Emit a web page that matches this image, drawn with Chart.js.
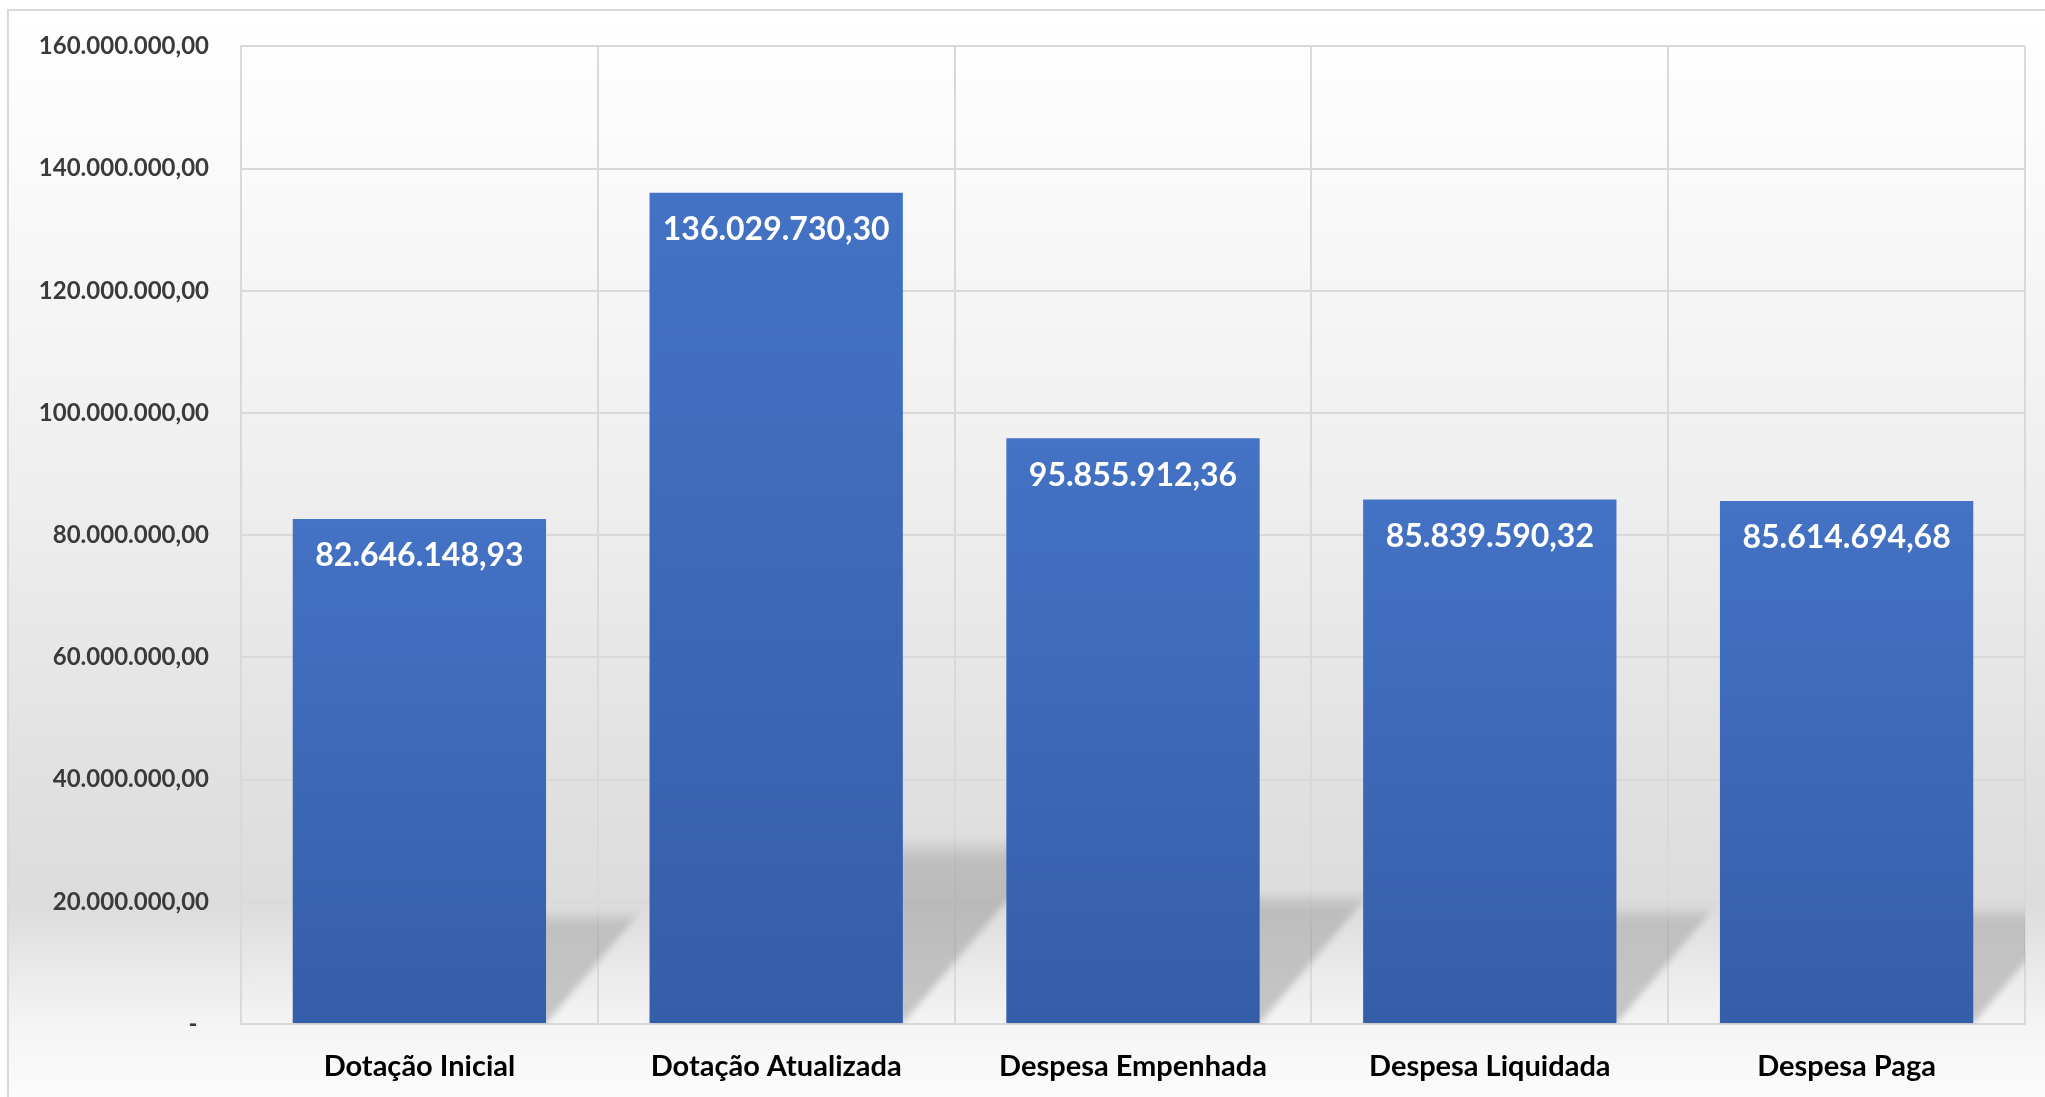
<!DOCTYPE html>
<html lang="pt-BR">
<head>
<meta charset="utf-8">
<title>Execução da despesa</title>
<script src="https://cdn.jsdelivr.net/npm/chart.js@4.4.1/dist/chart.umd.min.js"></script>
<style>
    html, body { margin: 0; padding: 0; background: #ffffff; overflow: hidden; }
    #frame {
        position: absolute; left: 7px; top: 9px; width: 2040px; height: 1090px;
        border-top: 2px solid #d9d9d9; border-left: 2px solid #d9d9d9;
        background: linear-gradient(to bottom, #ffffff 0%, #fbfbfb 12%, #eeeeee 45%, #e0e0e0 72%, #dcdcdc 82%, #eeeeee 90%, #f6f6f6 94%, #fbfbfb 100%);
    }
    #wrap { position: absolute; left: 0; top: 0; width: 2045px; height: 1097px; }
</style>
</head>
<body>
<div id="frame"></div>
<div id="wrap"><canvas id="despesaChart"></canvas></div>
<script>
const categories = ['Dotação Inicial', 'Dotação Atualizada', 'Despesa Empenhada', 'Despesa Liquidada', 'Despesa Paga'];
const values = [82646148.93, 136029730.30, 95855912.36, 85839590.32, 85614694.68];
const yMin = 0;
const yMax = 160000000;
const yStep = 20000000;

// 1234567.8 -> "1.234.567,80"
function formatBR(v) {
    const parts = v.toFixed(2).split('.');
    return parts[0].replace(/\B(?=(\d{3})+(?!\d))/g, '.') + ',' + parts[1];
}

// perspective shadow behind each bar (Excel style)
const barShadow = {
    id: 'barShadow',
    beforeDatasetsDraw(chart) {
        const ctx = chart.ctx;
        const area = chart.chartArea;
        const bars = chart.getDatasetMeta(0).data;
        ctx.save();
        ctx.beginPath();
        ctx.rect(area.left, area.top, area.right - area.left, area.bottom - area.top);
        ctx.clip();
        ctx.filter = 'blur(3px)';
        bars.forEach(bar => {
            const left = bar.x - bar.width / 2;
            const right = bar.x + bar.width / 2;
            const sh = (bar.base - bar.y) * 0.222;
            const shift = sh * 0.85;
            const top = bar.base - sh;
            const g = ctx.createLinearGradient(0, top, 0, bar.base);
            g.addColorStop(0, 'rgba(0,0,0,0.02)');
            g.addColorStop(0.12, 'rgba(0,0,0,0.14)');
            g.addColorStop(1, 'rgba(0,0,0,0.19)');
            ctx.fillStyle = g;
            ctx.beginPath();
            ctx.moveTo(left, bar.base);
            ctx.lineTo(right, bar.base);
            ctx.lineTo(right + shift, top);
            ctx.lineTo(left + shift, top);
            ctx.closePath();
            ctx.fill();
        });
        ctx.restore();
    }
};

// value written inside the top of each bar
const barValues = {
    id: 'barValues',
    afterDatasetsDraw(chart) {
        const ctx = chart.ctx;
        const bars = chart.getDatasetMeta(0).data;
        ctx.save();
        ctx.fillStyle = '#ffffff';
        ctx.font = 'bold 32px Lato';
        ctx.textAlign = 'center';
        ctx.textBaseline = 'middle';
        bars.forEach((bar, i) => {
            ctx.fillText(formatBR(values[i]), bar.x, bar.y + 37);
        });
        ctx.restore();
    }
};

const ctx = document.getElementById('despesaChart').getContext('2d');

new Chart(ctx, {
    type: 'bar',
    data: {
        labels: categories,
        datasets: [{
            data: values,
            backgroundColor: function(c) {
                const chart = c.chart;
                const area = chart.chartArea;
                if (!area || c.type !== 'data') return '#4472c4';
                const top = chart.scales.y.getPixelForValue(c.raw);
                const g = chart.ctx.createLinearGradient(0, top, 0, area.bottom);
                g.addColorStop(0, '#4472c4');
                g.addColorStop(1, '#355ea9');
                return g;
            },
            borderWidth: 0,
            barPercentage: 0.71,
            categoryPercentage: 1
        }]
    },
    options: {
        responsive: true,
        maintainAspectRatio: false,
        animation: false,
        layout: { padding: { top: 43, right: 20, bottom: 0, left: 0 } },
        plugins: {
            legend: { display: false },
            tooltip: { enabled: false }
        },
        scales: {
            x: {
                grid: { color: '#d9d9d9', lineWidth: 2, drawTicks: false, offset: true },
                border: { color: '#d9d9d9', width: 2 },
                ticks: {
                    color: '#000000',
                    font: { family: 'Lato', size: 29, weight: 'bold' },
                    padding: 25,
                    maxRotation: 0
                },
                afterFit: function(scale) { scale.height = 73; }
            },
            y: {
                min: yMin,
                max: yMax,
                grid: { color: '#d9d9d9', lineWidth: 2, drawTicks: false },
                border: { color: '#d9d9d9', width: 2 },
                ticks: {
                    stepSize: yStep,
                    color: '#3a3a3a',
                    font: { family: 'Lato', size: 24, weight: 'bold' },
                    padding: 32,
                    callback: function(value) {
                        return value === 0 ? '-  ' : formatBR(value);
                    }
                },
                afterFit: function(scale) { scale.width = 241; }
            }
        }
    },
    plugins: [barShadow, barValues]
});
</script>
</body>
</html>
